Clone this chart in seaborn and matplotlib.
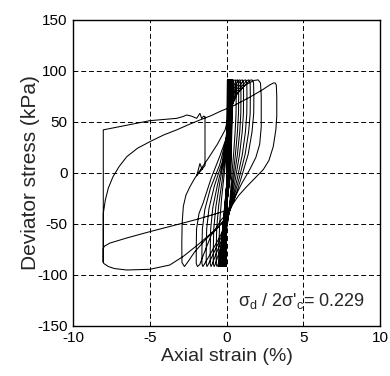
import numpy as np
import pandas as pd
import matplotlib
matplotlib.use("Agg")
import matplotlib.pyplot as plt
import seaborn as sns

# ---------------- data ----------------
STRESS_TOP = 91.0
STRESS_BOT = -92.0

# early, almost linear cycles (dense black band)
dense_top = [0.05, 0.07, 0.08, 0.10, 0.11, 0.12, 0.14, 0.15, 0.16, 0.18, 0.19, 0.20,
             0.22, 0.23, 0.24, 0.26, 0.27, 0.29, 0.30, 0.32, 0.34, 0.36, 0.39, 0.43]
dense_bottom = [-0.03, -0.05, -0.07, -0.09, -0.11, -0.13, -0.15, -0.17, -0.19, -0.21, -0.23, -0.25,
                -0.27, -0.29, -0.31, -0.33, -0.35, -0.37, -0.39, -0.41, -0.43, -0.46, -0.49, -0.52]
dense_mid_up = [0.00, 0.01, 0.02, 0.02, 0.02, 0.03, 0.03, 0.03, 0.04, 0.04, 0.04, 0.05,
                0.05, 0.05, 0.05, 0.06, 0.06, 0.06, 0.06, 0.07, 0.07, 0.07, 0.07, 0.07]
dense_mid_down = [0.03, 0.04, 0.05, 0.06, 0.07, 0.08, 0.09, 0.10, 0.11, 0.12, 0.13, 0.14,
                  0.15, 0.16, 0.17, 0.18, 0.19, 0.20, 0.21, 0.22, 0.23, 0.24, 0.25, 0.26]

# opening loops: compression peak 0.60 / extension peak -0.68
loop1_strain = [-0.51, -0.46, -0.33, -0.15, 0.00, 0.10, 0.20, 0.35, 0.48, 0.56, 0.61,
                0.62, 0.61, 0.55, 0.45, 0.32, 0.20, 0.05, -0.15, -0.40, -0.56, -0.63, -0.68]
loop1_stress = [-75, -50, -25, 0, 22, 45, 68, 84, 90.5, 91, 88,
                75, 58, 40, 18, -5, -30, -50, -66, -81, -90, -92, -89]
# 0.76 / -0.87
loop2_strain = [-0.68, -0.65, -0.52, -0.30, -0.08, 0.06, 0.18, 0.40, 0.62, 0.71, 0.77,
                0.78, 0.77, 0.70, 0.57, 0.40, 0.22, 0.04, -0.22, -0.55, -0.75, -0.82, -0.87]
loop2_stress = [-75, -55, -32, -8, 18, 42, 65, 83, 90.5, 91, 88,
                75, 58, 40, 18, -5, -30, -50, -66, -81, -90, -92, -89]
# 0.91 / -1.07
loop3_strain = [-0.87, -0.84, -0.70, -0.45, -0.15, 0.04, 0.17, 0.45, 0.76, 0.86, 0.92,
                0.93, 0.92, 0.85, 0.70, 0.48, 0.25, 0.04, -0.30, -0.70, -0.95, -1.02, -1.07]
loop3_stress = [-75, -55, -33, -10, 15, 40, 64, 82, 90.5, 91, 88,
                75, 58, 40, 18, -5, -30, -49, -65, -80, -90, -92, -89]
# 1.08 / -1.33
loop4_strain = [-1.07, -1.04, -0.90, -0.60, -0.22, 0.02, 0.16, 0.50, 0.92, 1.02, 1.09,
                1.10, 1.09, 1.01, 0.84, 0.58, 0.28, 0.04, -0.38, -0.85, -1.20, -1.28, -1.33]
loop4_stress = [-75, -55, -34, -12, 12, 38, 63, 81, 90.5, 91, 88,
                75, 58, 40, 18, -5, -30, -48, -64, -79, -90, -92, -89]
# 1.30 / -1.61
loop5_strain = [-1.33, -1.30, -1.15, -0.80, -0.30, 0.00, 0.15, 0.55, 1.12, 1.23, 1.31,
                1.32, 1.31, 1.22, 1.02, 0.70, 0.32, 0.04, -0.45, -1.00, -1.46, -1.55, -1.61]
loop5_stress = [-75, -55, -35, -13, 10, 36, 62, 80, 90.5, 91, 88,
                75, 58, 40, 18, -5, -30, -47, -63, -78, -90, -92, -89]
# 1.52 / -1.98
loop6_strain = [-1.61, -1.58, -1.42, -1.05, -0.45, -0.03, 0.14, 0.62, 1.33, 1.45, 1.53,
                1.54, 1.53, 1.43, 1.20, 0.82, 0.36, 0.04, -0.35, -1.00, -1.55, -1.75, -1.90, -1.98]
loop6_stress = [-75, -55, -36, -15, 8, 33, 60, 79, 90.5, 91, 88,
                75, 58, 40, 18, -5, -30, -44, -50, -61, -82, -90, -92, -89]
# 1.73 / -2.91
loop7_strain = [-1.98, -1.96, -1.80, -1.54, -1.00, -0.45, -0.05, 0.13, 0.70, 1.50, 1.65, 1.75,
                1.77, 1.76, 1.65, 1.40, 0.95, 0.42, 0.04, -0.60, -1.40, -2.10, -2.55, -2.75, -2.91]
loop7_stress = [-75, -55, -40, -30, -5, 16, 33, 58, 78, 90.5, 91, 88,
                75, 58, 40, 18, -5, -30, -43, -54, -66, -78, -88, -92, -88]
# 2.17 / bottom curve to -8.03
loop8_strain = [-2.92, -2.90, -2.82, -2.65, -2.40, -2.10, -1.70, -1.20, -0.60, -0.10, 0.15, 0.60,
                1.20, 1.80, 2.05, 2.20,
                2.25, 2.25, 2.15, 1.90, 1.50, 1.00, 0.50, 0.15, -0.35, -0.76, -1.74,
                -2.82, -3.70, -5.00, -6.50, -7.30, -7.70, -8.00, -8.03]
loop8_stress = [-70, -50, -33, -22, -14, -6, 3, 14, 28, 42, 58, 76,
                86, 90.5, 91, 88,
                75, 45, 28, 15, 3, -10, -25, -38, -46, -56, -69,
                -82, -90.5, -94.7, -95.4, -94, -92, -89, -87]
# 3.14 big loop: big curve up, shallow line down
loop9_strain = [-8.03, -7.90, -7.70, -7.40, -7.00, -6.50, -5.80, -5.00, -4.10, -3.25,
                -2.50, -1.74, -1.00, -0.44, 0.50, 1.50, 2.30, 2.80, 3.05, 3.15, 3.23,
                3.26, 3.26, 3.20, 3.03, 2.75, 2.38, 1.80, 1.30, 0.80, 0.43, 0.00,
                -1.09, -2.00, -3.00, -5.00, -6.50, -7.60, -7.95, -8.03, -8.03]
loop9_stress = [-40, -27, -15, -4, 6, 15.7, 24, 30.4, 37, 42,
                47, 51.7, 56, 60, 66, 74, 81, 86, 88, 88, 86,
                75, 55, 42, 25.5, 12, 3, -6, -13.7, -22, -30, -37,
                -42, -46, -50, -57.8, -64, -69, -72, -74, -88]
# final reload at the strain limit
final_strain = [-8.03, -6.50, -5.00, -3.25, -2.85, -2.60, -2.30, -1.95, -1.74, -1.63,
                -1.50, -1.41, -1.41, -1.95, -1.74, -1.60]
final_stress = [42, 46.5, 51, 53.3, 55, 56.6, 55.5, 53.3, 58.2, 53.3,
                55.5, 55, 7, -3, 9, 3]

x_ticks = [-10, -5, 0, 5, 10]
y_ticks = [-150, -100, -50, 0, 50, 100, 150]
ratio_label = "σ$_\\mathregular{d}$ / 2σ'$_\\mathregular{c}$= 0.229"

# ---------------- build the continuous path ----------------
xs, ys = [0.0], [0.0]
for i in range(len(dense_top)):
    xs += [dense_mid_up[i], dense_top[i], dense_mid_down[i], dense_bottom[i]]
    ys += [0.0, STRESS_TOP, 0.0, STRESS_BOT]
for sx, sy in [(loop1_strain, loop1_stress), (loop2_strain, loop2_stress),
               (loop3_strain, loop3_stress), (loop4_strain, loop4_stress),
               (loop5_strain, loop5_stress), (loop6_strain, loop6_stress),
               (loop7_strain, loop7_stress), (loop8_strain, loop8_stress),
               (loop9_strain, loop9_stress), (final_strain, final_stress)]:
    xs += list(sx)
    ys += list(sy)

df = pd.DataFrame({"strain": xs, "stress": ys})

# ---------------- plot ----------------
sns.set_style("white")
plt.rcParams["font.family"] = ["Liberation Sans", "DejaVu Sans"]
plt.rcParams["mathtext.fontset"] = "custom"
plt.rcParams["mathtext.rm"] = "Liberation Sans"
plt.rcParams["axes.unicode_minus"] = False

fig = plt.figure(figsize=(3.9, 3.76), dpi=100)
ax = fig.add_axes([0.1872, 0.1338, 0.788, 0.8138])

sns.lineplot(data=df, x="strain", y="stress", sort=False, estimator=None,
             color="black", linewidth=0.75, ax=ax)

ax.set_xlim(-10, 10)
ax.set_ylim(-150, 150)
ax.set_xticks(x_ticks)
ax.set_yticks(y_ticks)
ax.grid(True, color="black", linestyle=(0, (5, 3)), linewidth=0.7)
ax.set_axisbelow(True)
for s in ax.spines.values():
    s.set_color("black")
    s.set_linewidth(1.0)
ax.tick_params(direction="in", length=3, width=0.8, labelsize=11, colors="black", pad=4)
ax.set_xlabel("Axial strain (%)", fontsize=14, labelpad=2)
ax.set_ylabel("Deviator stress (kPa)", fontsize=15, labelpad=-2)
ax.text(9.0, -126, ratio_label, ha="right", va="center", fontsize=13)

fig.savefig("out.png", dpi=100)
